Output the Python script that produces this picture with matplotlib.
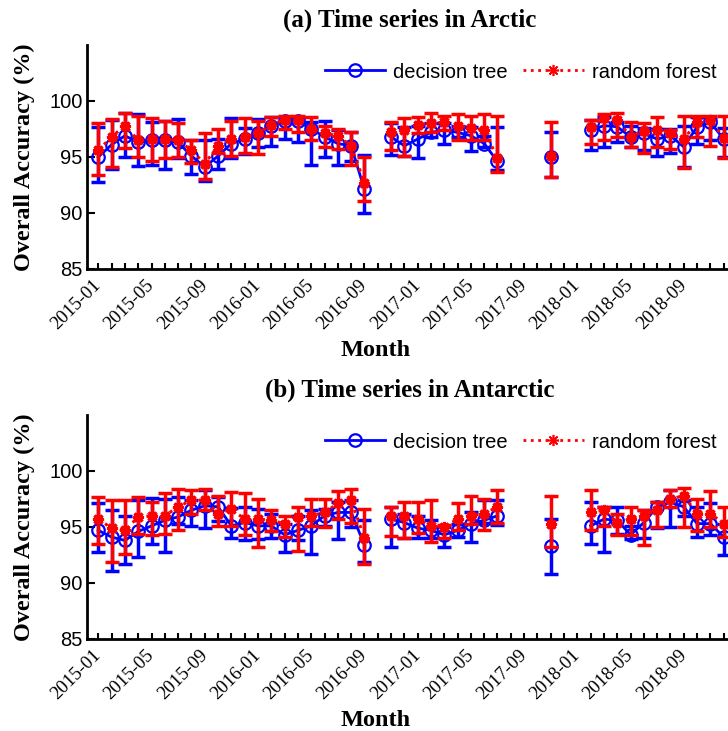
import numpy as np
import pandas as pd
import matplotlib
matplotlib.use("Agg")
import matplotlib.pyplot as plt

nan = np.nan

# monthly axis, 2015-01 .. 2018-12
months = pd.date_range("2015-01", periods=48, freq="MS").strftime("%Y-%m").tolist()

# Arctic, decision tree: mean, upper and lower end of the error bar
arc_dt = [95.0, 96.1, 96.9, 96.3, 96.5, 96.5, 96.3, 95.1, 94.1, 95.1, 96.2, 96.6,
          97.1, 97.8, 98.2, 98.2, 97.5, 96.8, 96.2, 96.0, 92.1, nan, 96.8, 96.0,
          96.6, 97.2, 97.4, 97.2, 96.9, 96.2, 94.6, nan, nan, nan, 95.0, nan,
          nan, 97.4, 97.8, 97.7, 96.8, 97.1, 96.6, 96.9, 95.9, 97.7, 98.1, 96.6]
arc_dt_hi = [97.7, 98.3, 98.9, 98.8, 98.1, 98.2, 98.4, 96.5, 96.5, 96.6, 98.5, 97.6,
             98.4, 98.6, 98.6, 98.5, 98.1, 98.2, 97.4, 97.2, 95.2, nan, 98.0, 97.7,
             97.8, 98.0, 98.0, 97.8, 97.7, 96.9, 97.7, nan, nan, nan, 97.2, nan,
             nan, 98.3, 98.6, 98.1, 97.8, 97.6, 97.5, 97.5, 97.8, 98.6, 98.4, 97.6]
arc_dt_lo = [92.8, 93.9, 95.0, 94.2, 94.3, 93.9, 94.9, 93.5, 92.9, 93.9, 94.9, 95.3,
             95.9, 96.0, 96.6, 96.3, 94.3, 95.0, 94.3, 94.6, 90.0, nan, 95.2, 95.1,
             94.9, 96.8, 96.2, 96.8, 95.5, 95.9, 93.8, nan, nan, nan, 93.2, nan,
             nan, 95.6, 95.9, 96.3, 95.9, 95.6, 95.1, 95.4, 94.1, 96.2, 96.5, 95.0]

# Arctic, random forest
arc_rf = [95.6, 96.8, 97.8, 96.5, 96.6, 96.6, 96.5, 95.6, 94.4, 96.0, 96.6, 96.8,
          97.1, 97.9, 98.3, 98.3, 97.5, 97.1, 96.9, 96.0, 92.7, nan, 97.2, 97.4,
          97.9, 98.0, 98.1, 97.8, 97.6, 97.4, 94.9, nan, nan, nan, 95.1, nan,
          nan, 97.7, 98.5, 98.3, 96.8, 97.3, 97.4, 97.1, 96.6, 98.1, 98.3, 96.7]
arc_rf_hi = [98.0, 98.4, 98.9, 98.7, 98.5, 98.2, 98.0, 96.5, 97.1, 97.5, 98.2, 98.5,
             98.2, 98.6, 98.7, 98.7, 98.6, 97.8, 97.5, 97.2, 95.0, nan, 98.1, 98.5,
             98.6, 98.9, 98.7, 98.8, 98.7, 98.8, 98.7, nan, nan, nan, 98.1, nan,
             nan, 98.3, 98.8, 98.9, 98.1, 98.0, 98.6, 97.4, 98.7, 98.7, 98.7, 98.7]
arc_rf_lo = [93.4, 94.1, 95.8, 95.0, 94.6, 94.9, 95.0, 94.5, 93.0, 95.4, 95.1, 95.4,
             95.3, 96.9, 97.5, 97.2, 96.5, 95.9, 95.7, 94.3, 91.1, nan, 95.6, 95.1,
             97.1, 97.2, 97.4, 96.5, 96.5, 96.5, 93.7, nan, nan, nan, 93.2, nan,
             nan, 96.2, 96.5, 96.8, 95.9, 95.4, 95.9, 95.7, 94.0, 96.8, 96.0, 94.9]

# Antarctic, decision tree
ant_dt = [94.7, 94.1, 93.8, 94.6, 95.1, 95.6, 95.9, 96.5, 96.9, 96.8, 95.1, 95.4,
          95.1, 95.1, 94.3, 94.7, 95.1, 96.0, 96.3, 96.3, 93.4, nan, 95.7, 95.4,
          94.9, 94.7, 94.3, 94.7, 95.3, 95.6, 96.0, nan, nan, nan, 93.3, nan,
          nan, 95.1, 95.7, 95.6, 94.3, 95.4, 96.8, 97.2, 96.8, 95.3, 95.3, 94.1]
ant_dt_hi = [97.1, 96.5, 96.0, 97.4, 97.6, 97.5, 97.7, 97.4, 98.3, 97.7, 96.7, 96.8,
             96.6, 96.2, 95.3, 96.0, 96.5, 96.6, 97.2, 97.4, 95.6, nan, 96.8, 96.2,
             96.0, 95.6, 95.0, 95.3, 96.3, 97.4, 97.4, nan, nan, nan, 95.7, nan,
             nan, 97.2, 96.8, 96.8, 95.1, 96.5, 97.2, 98.3, 97.4, 96.8, 97.1, 95.3]
ant_dt_lo = [92.8, 91.1, 91.7, 92.3, 93.5, 92.8, 95.3, 95.1, 94.9, 95.5, 94.0, 93.8,
             93.9, 94.0, 92.8, 93.8, 92.6, 95.1, 93.9, 95.0, 91.9, nan, 93.2, 94.0,
             94.0, 94.0, 93.2, 94.1, 93.7, 95.4, 95.2, nan, nan, nan, 90.8, nan,
             nan, 93.5, 92.8, 94.4, 93.9, 94.0, 94.9, 95.0, 96.0, 94.1, 94.3, 92.5]

# Antarctic, random forest
ant_rf = [95.7, 94.9, 94.7, 95.9, 96.0, 96.0, 96.8, 97.4, 97.4, 96.2, 96.6, 95.7,
          95.7, 95.6, 95.3, 95.9, 96.0, 96.3, 97.1, 97.4, 94.0, nan, 96.0, 96.0,
          95.7, 95.1, 95.0, 95.7, 96.0, 96.2, 96.8, nan, nan, nan, 95.3, nan,
          nan, 96.3, 96.5, 95.4, 95.7, 96.0, 96.5, 97.5, 97.8, 96.2, 96.2, 95.3]
ant_rf_hi = [97.7, 97.4, 97.4, 97.7, 97.2, 98.0, 98.4, 98.3, 98.4, 97.8, 98.1, 98.0,
             97.5, 96.5, 96.0, 96.8, 97.5, 97.5, 98.2, 98.4, 96.6, nan, 96.8, 97.2,
             97.2, 97.4, 95.2, 97.1, 97.8, 97.5, 98.3, nan, nan, nan, 97.8, nan,
             nan, 98.3, 96.8, 96.2, 96.8, 96.5, 97.2, 98.3, 98.5, 97.5, 98.2, 96.8]
ant_rf_lo = [93.5, 91.9, 92.6, 94.4, 94.3, 94.4, 94.7, 96.2, 96.5, 95.1, 95.1, 94.3,
             93.2, 94.6, 94.1, 92.9, 95.1, 95.0, 95.7, 95.4, 91.7, nan, 94.2, 94.0,
             94.5, 93.7, 94.0, 94.7, 95.3, 94.7, 95.4, nan, nan, nan, 93.2, nan,
             nan, 94.7, 95.1, 94.3, 94.3, 93.4, 95.0, 96.8, 95.0, 94.6, 95.0, 94.1]

titles = ["(a) Time series in Arctic", "(b) Time series in Antarctic"]

SERIF = "Liberation Serif"
SANS = "Liberation Sans"
W, H = 728, 731
ASTERISK = (8, 2, 0)

fig = plt.figure(figsize=(W / 100, H / 100), dpi=100)
x = np.arange(len(months))


def draw_panel(top_px, bottom_px, dt, dt_hi, dt_lo, rf, rf_hi, rf_lo, title, legend_y):
    ax = fig.add_axes([87 / W, 1 - bottom_px / H, 650 / W, (bottom_px - top_px) / H])
    dt, dt_hi, dt_lo = map(np.array, (dt, dt_hi, dt_lo))
    rf, rf_hi, rf_lo = map(np.array, (rf, rf_hi, rf_lo))

    ax.errorbar(x, dt, yerr=[dt - dt_lo, dt_hi - dt], fmt="none", ecolor="blue",
                elinewidth=2.5, capsize=5, capthick=2.5)
    l1, = ax.plot(x, dt, color="blue", lw=2, marker="o", ms=9, mfc="none",
                  mec="blue", mew=1.6, label="decision tree")
    ax.errorbar(x, rf, yerr=[rf - rf_lo, rf_hi - rf], fmt="none", ecolor="red",
                elinewidth=2.5, capsize=5, capthick=2.5)
    ax.plot(x, rf, color="red", lw=2.2, ls=":", marker=ASTERISK, ms=8,
            mec="red", mew=2.2)
    # thinner copy of the red style for the legend key
    l2, = ax.plot([], [], color="red", lw=2, ls=":", marker=ASTERISK, ms=8,
                  mec="red", mew=1.2, label="random forest")

    ax.set_xlim(-0.85, 48)
    ax.set_ylim(85, 105)
    ax.set_yticks([85, 90, 95, 100])
    ax.set_xticks(x)
    ax.set_xticklabels([m if i % 4 == 0 else "" for i, m in enumerate(months)],
                       rotation=45, ha="right", va="center", rotation_mode="anchor",
                       fontfamily=SERIF, fontsize=13.5)
    for lab in ax.get_yticklabels():
        lab.set_fontfamily(SANS)
        lab.set_fontsize(14.5)
    ax.tick_params(axis="x", direction="in", length=4.5, width=1.5, pad=10)
    ax.tick_params(axis="y", direction="in", length=6, width=1.5, pad=3)
    ax.spines["top"].set_visible(False)
    ax.spines["right"].set_visible(False)
    ax.spines["left"].set_linewidth(2)
    ax.spines["bottom"].set_linewidth(2)

    fig.text(410 / W, 1 - (top_px - 25) / H, title, ha="center", va="center",
             fontfamily=SERIF, fontweight="bold", fontsize=18)
    fig.text(376 / W, 1 - (bottom_px + 81) / H, "Month", ha="center", va="center",
             fontfamily=SERIF, fontweight="bold", fontsize=17.5)
    fig.text(24 / W, 1 - (top_px + bottom_px) / 2 / H, "Overall Accuracy (%)",
             rotation=90, ha="center", va="center",
             fontfamily=SERIF, fontweight="bold", fontsize=17.5)

    fig.legend(handles=[l1, l2], loc="center left",
               bbox_to_anchor=(325 / W, 1 - legend_y / H), ncol=2, frameon=False,
               borderpad=0, borderaxespad=0, handlelength=3, handletextpad=0.4,
               columnspacing=0.75, prop={"family": SANS, "size": 14.5})
    return ax


draw_panel(45, 269, arc_dt, arc_dt_hi, arc_dt_lo, arc_rf, arc_rf_hi, arc_rf_lo,
           titles[0], 72)
draw_panel(415, 639, ant_dt, ant_dt_hi, ant_dt_lo, ant_rf, ant_rf_hi, ant_rf_lo,
           titles[1], 442)

fig.savefig("out.png", dpi=100)
